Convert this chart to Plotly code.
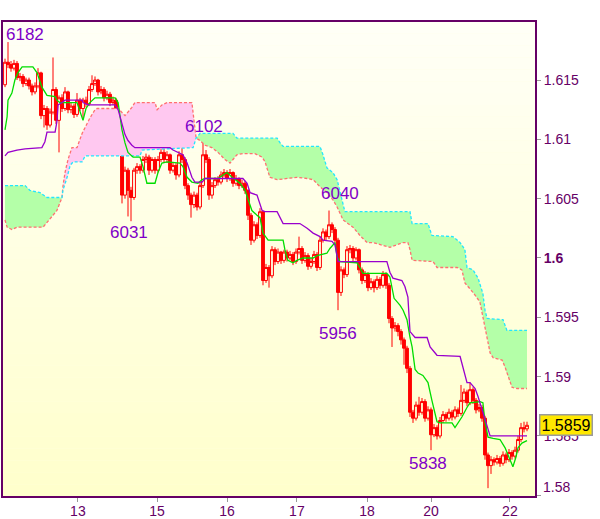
import plotly.graph_objects as go

# ---------------- data ----------------
bar = list(range(175))

open_ = [1.6146, 1.6165, 1.6163, 1.6160, 1.6164, 1.6152, 1.6153, 1.6147, 1.6150, 1.6145,
         1.6140, 1.6145, 1.6156, 1.6120, 1.6126, 1.6112, 1.6123, 1.6142, 1.6116, 1.6135,
         1.6126, 1.6140, 1.6125, 1.6128, 1.6121, 1.6133, 1.6126, 1.6133, 1.6130, 1.6142,
         1.6147, 1.6150, 1.6140, 1.6142, 1.6135, 1.6138, 1.6131, 1.6133, 1.6123, 1.6091,
         1.6053, 1.6074, 1.6057, 1.6051, 1.6074, 1.6077, 1.6074, 1.6083, 1.6085, 1.6074,
         1.6083, 1.6074, 1.6083, 1.6089, 1.6083, 1.6087, 1.6074, 1.6078, 1.6070, 1.6087,
         1.6083, 1.6061, 1.6053, 1.6045, 1.6053, 1.6043, 1.6061, 1.6087, 1.6083, 1.6053,
         1.6061, 1.6066, 1.6064, 1.6070, 1.6072, 1.6067, 1.6072, 1.6063, 1.6067, 1.6061,
         1.6063, 1.6057, 1.6036, 1.6015, 1.6028, 1.6019, 1.6039, 1.5981, 1.5992, 1.5985,
         1.6007, 1.5997, 1.6005, 1.5998, 1.6005, 1.6000, 1.6003, 1.5997, 1.6005, 1.6008,
         1.5998, 1.6002, 1.5993, 1.5997, 1.6003, 1.5992, 1.6015, 1.6022, 1.6018, 1.6028,
         1.6024, 1.6015, 1.5971, 1.5990, 1.5986, 1.6007, 1.6008, 1.6000, 1.6007, 1.5990,
         1.5981, 1.5986, 1.5975, 1.5980, 1.5975, 1.5982, 1.5977, 1.5986, 1.5977, 1.5949,
         1.5941, 1.5943, 1.5938, 1.5931, 1.5924, 1.5907, 1.5870, 1.5865, 1.5876, 1.5870,
         1.5879, 1.5865, 1.5872, 1.5851, 1.5857, 1.5850, 1.5863, 1.5868, 1.5865, 1.5870,
         1.5866, 1.5872, 1.5869, 1.5880, 1.5887, 1.5878, 1.5889, 1.5880, 1.5872, 1.5874,
         1.5865, 1.5834, 1.5825, 1.5830, 1.5828, 1.5831, 1.5827, 1.5834, 1.5830, 1.5836,
         1.5833, 1.5838, 1.5847, 1.5857, 1.5856]

high = [1.6168, 1.6182, 1.6166, 1.6167, 1.6166, 1.6156, 1.6155, 1.6152, 1.6152, 1.6147,
        1.6148, 1.6160, 1.6157, 1.6129, 1.6128, 1.6126, 1.6169, 1.6144, 1.6137, 1.6138,
        1.6144, 1.6141, 1.6131, 1.6130, 1.6139, 1.6135, 1.6135, 1.6136, 1.6145, 1.6154,
        1.6153, 1.6151, 1.6145, 1.6144, 1.6141, 1.6140, 1.6136, 1.6135, 1.6125, 1.6094,
        1.6077, 1.6076, 1.6060, 1.6076, 1.6080, 1.6079, 1.6086, 1.6088, 1.6087, 1.6085,
        1.6085, 1.6086, 1.6095, 1.6095, 1.6090, 1.6088, 1.6081, 1.6080, 1.6090, 1.6093,
        1.6085, 1.6063, 1.6055, 1.6056, 1.6055, 1.6064, 1.6102, 1.6091, 1.6085, 1.6064,
        1.6068, 1.6069, 1.6073, 1.6075, 1.6074, 1.6075, 1.6073, 1.6070, 1.6068, 1.6066,
        1.6065, 1.6058, 1.6038, 1.6031, 1.6030, 1.6042, 1.6040, 1.5995, 1.5994, 1.6010,
        1.6009, 1.6008, 1.6006, 1.6007, 1.6007, 1.6006, 1.6005, 1.6008, 1.6018, 1.6010,
        1.6005, 1.6004, 1.6000, 1.6006, 1.6005, 1.6018, 1.6025, 1.6024, 1.6040, 1.6030,
        1.6026, 1.6017, 1.5993, 1.5992, 1.6010, 1.6011, 1.6010, 1.6009, 1.6008, 1.5992,
        1.5989, 1.5988, 1.5983, 1.5982, 1.5985, 1.5984, 1.5989, 1.5988, 1.5979, 1.5951,
        1.5946, 1.5945, 1.5940, 1.5933, 1.5926, 1.5909, 1.5872, 1.5879, 1.5883, 1.5882,
        1.5881, 1.5875, 1.5874, 1.5860, 1.5859, 1.5866, 1.5871, 1.5870, 1.5873, 1.5872,
        1.5875, 1.5874, 1.5893, 1.5890, 1.5889, 1.5895, 1.5891, 1.5882, 1.5877, 1.5876,
        1.5867, 1.5836, 1.5833, 1.5832, 1.5834, 1.5833, 1.5837, 1.5836, 1.5839, 1.5838,
        1.5841, 1.5850, 1.5861, 1.5862, 1.5862]

low = [1.6144, 1.6160, 1.6157, 1.6158, 1.6150, 1.6149, 1.6144, 1.6145, 1.6142, 1.6137,
       1.6138, 1.6143, 1.6117, 1.6110, 1.6108, 1.6110, 1.6121, 1.6113, 1.6089, 1.6123,
       1.6124, 1.6122, 1.6122, 1.6118, 1.6119, 1.6124, 1.6118, 1.6127, 1.6128, 1.6140,
       1.6145, 1.6137, 1.6138, 1.6132, 1.6133, 1.6128, 1.6129, 1.6120, 1.6087, 1.6046,
       1.6050, 1.6035, 1.6031, 1.6049, 1.6071, 1.6071, 1.6072, 1.6080, 1.6070, 1.6072,
       1.6071, 1.6072, 1.6081, 1.6080, 1.6080, 1.6071, 1.6072, 1.6066, 1.6068, 1.6080,
       1.6058, 1.6049, 1.6034, 1.6042, 1.6040, 1.6041, 1.6059, 1.6080, 1.6049, 1.6050,
       1.6059, 1.6061, 1.6062, 1.6068, 1.6064, 1.6065, 1.6060, 1.6061, 1.6058, 1.6059,
       1.6054, 1.6032, 1.6011, 1.6013, 1.6016, 1.6017, 1.5977, 1.5979, 1.5975, 1.5983,
       1.5994, 1.5995, 1.5995, 1.5996, 1.5997, 1.5998, 1.5994, 1.5995, 1.6003, 1.5995,
       1.5996, 1.5990, 1.5991, 1.5995, 1.5989, 1.5990, 1.6013, 1.6015, 1.6016, 1.6021,
       1.6012, 1.5956, 1.5968, 1.5983, 1.5984, 1.6004, 1.5997, 1.5998, 1.5987, 1.5978,
       1.5979, 1.5972, 1.5973, 1.5971, 1.5973, 1.5974, 1.5975, 1.5974, 1.5945, 1.5925,
       1.5938, 1.5934, 1.5927, 1.5910, 1.5903, 1.5866, 1.5861, 1.5863, 1.5867, 1.5868,
       1.5862, 1.5863, 1.5838, 1.5849, 1.5847, 1.5848, 1.5861, 1.5862, 1.5863, 1.5863,
       1.5864, 1.5866, 1.5867, 1.5878, 1.5875, 1.5876, 1.5877, 1.5869, 1.5870, 1.5862,
       1.5830, 1.5806, 1.5818, 1.5825, 1.5826, 1.5824, 1.5825, 1.5827, 1.5828, 1.5830,
       1.5831, 1.5836, 1.5845, 1.5853, 1.5854]

close = [1.6165, 1.6163, 1.6160, 1.6164, 1.6152, 1.6153, 1.6147, 1.6150, 1.6145, 1.6140,
         1.6145, 1.6156, 1.6120, 1.6126, 1.6112, 1.6123, 1.6142, 1.6116, 1.6135, 1.6126,
         1.6140, 1.6125, 1.6128, 1.6121, 1.6133, 1.6126, 1.6133, 1.6130, 1.6142, 1.6147,
         1.6150, 1.6140, 1.6142, 1.6135, 1.6138, 1.6131, 1.6133, 1.6123, 1.6091, 1.6053,
         1.6074, 1.6057, 1.6051, 1.6074, 1.6077, 1.6074, 1.6083, 1.6085, 1.6074, 1.6083,
         1.6074, 1.6083, 1.6089, 1.6083, 1.6087, 1.6074, 1.6078, 1.6070, 1.6087, 1.6083,
         1.6061, 1.6053, 1.6045, 1.6053, 1.6043, 1.6061, 1.6087, 1.6083, 1.6053, 1.6061,
         1.6066, 1.6064, 1.6070, 1.6072, 1.6067, 1.6072, 1.6063, 1.6067, 1.6061, 1.6063,
         1.6057, 1.6036, 1.6015, 1.6028, 1.6019, 1.6039, 1.5981, 1.5992, 1.5985, 1.6007,
         1.5997, 1.6005, 1.5998, 1.6005, 1.6000, 1.6003, 1.5997, 1.6005, 1.6008, 1.5998,
         1.6002, 1.5993, 1.5997, 1.6003, 1.5992, 1.6015, 1.6022, 1.6018, 1.6028, 1.6024,
         1.6015, 1.5971, 1.5990, 1.5986, 1.6007, 1.6008, 1.6000, 1.6007, 1.5990, 1.5981,
         1.5986, 1.5975, 1.5980, 1.5975, 1.5982, 1.5977, 1.5986, 1.5977, 1.5949, 1.5941,
         1.5943, 1.5938, 1.5931, 1.5924, 1.5907, 1.5870, 1.5865, 1.5876, 1.5870, 1.5879,
         1.5865, 1.5872, 1.5851, 1.5857, 1.5850, 1.5863, 1.5868, 1.5865, 1.5870, 1.5866,
         1.5872, 1.5869, 1.5880, 1.5887, 1.5878, 1.5889, 1.5880, 1.5872, 1.5874, 1.5865,
         1.5834, 1.5825, 1.5830, 1.5828, 1.5831, 1.5827, 1.5834, 1.5830, 1.5836, 1.5833,
         1.5838, 1.5847, 1.5857, 1.5856, 1.5859]

# Tenkan-sen (green)
tenkan_x = [0, 0.7, 1, 2.3, 3.3, 4.3, 5.7, 9.3, 10.7, 11.7, 12.3, 14, 16.7, 17.3, 18.3, 24, 25, 26, 27,
            28.3, 30, 36.7, 37.7, 39, 40, 41, 42.7, 45, 46, 47.3, 50, 51, 52.3, 54, 58.3, 59.3, 60.7,
            62.3, 64.3, 65.7, 66.7, 71, 72.7, 74, 75.7, 78.3, 80, 81, 82.3, 84, 85, 86, 87.7, 92.7,
            93.3, 94.3, 96, 97.3, 99.3, 102.7, 104, 107.3, 108.3, 110, 110.7, 111.7, 117.3, 118.3,
            119.3, 127.3, 128.3, 129.7, 131.7, 132.7, 134, 135, 135.7, 136.7, 137.7, 139.3, 141,
            142.3, 144, 145, 149, 150, 151, 152.3, 154, 155, 158.3, 159.3, 160, 161, 162.7, 165,
            166.7, 168.3, 169.3, 170.3, 171, 172.3, 174]
tenkan_y = [1.6108, 1.6119, 1.6133, 1.6139, 1.6150, 1.6156, 1.6161, 1.6161, 1.6156, 1.6148, 1.6144,
            1.6137, 1.6136, 1.6133, 1.6131, 1.6131, 1.6123, 1.6116, 1.6126, 1.6131, 1.6135, 1.6135,
            1.6131, 1.6108, 1.6097, 1.6089, 1.6085, 1.6085, 1.6077, 1.6063, 1.6063, 1.6072, 1.6080,
            1.6081, 1.6080, 1.6077, 1.6068, 1.6064, 1.6063, 1.6066, 1.6067, 1.6067, 1.6070, 1.6072,
            1.6068, 1.6063, 1.6057, 1.6049, 1.6040, 1.6036, 1.6034, 1.6021, 1.6015, 1.6015, 1.6007,
            1.5998, 1.5996, 1.5998, 1.6000, 1.6000, 1.6002, 1.6004, 1.6008, 1.6013, 1.6001, 1.5997,
            1.5996, 1.5992, 1.5987, 1.5987, 1.5984, 1.5966, 1.5960, 1.5956, 1.5948, 1.5933, 1.5925,
            1.5906, 1.5903, 1.5901, 1.5895, 1.5880, 1.5862, 1.5861, 1.5861, 1.5857, 1.5861, 1.5866,
            1.5874, 1.5878, 1.5879, 1.5878, 1.5862, 1.5849, 1.5848, 1.5847, 1.5840, 1.5830, 1.5824,
            1.5832, 1.5840, 1.5844, 1.5846]

# Kijun-sen (purple)
kijun_x = [0, 1, 4, 6.7, 12.3, 13.3, 14, 16.7, 17.3, 17.7, 19, 20, 25.7, 26, 27.7, 36.7, 37.7, 39,
           40, 41, 42.3, 43.3, 55, 56, 57.7, 59.3, 60.7, 62.3, 63.3, 65.7, 66.7, 79.3, 80.7, 81.7,
           84, 85.7, 86.7, 90.7, 92.7, 98.3, 100.7, 102.7, 105, 106, 109, 110, 111, 127.3, 128.3,
           129.3, 132.3, 133.3, 134.3, 135, 136.7, 140.7, 141.7, 144, 151.7, 152.7, 154, 155,
           156.7, 157.7, 159.3, 160.7, 161.7, 174]
kijun_y = [1.6086, 1.6089, 1.6091, 1.6092, 1.6093, 1.6098, 1.6106, 1.6106, 1.6115, 1.6129, 1.6131,
           1.6133, 1.6133, 1.6131, 1.6129, 1.6129, 1.6125, 1.6112, 1.6104, 1.6099, 1.6095, 1.6093,
           1.6093, 1.6091, 1.6089, 1.6087, 1.6080, 1.6068, 1.6064, 1.6064, 1.6067, 1.6067, 1.6063,
           1.6055, 1.6053, 1.6040, 1.6039, 1.6039, 1.6029, 1.6029, 1.6025, 1.6021, 1.6018, 1.6015,
           1.6014, 1.6011, 1.5997, 1.5997, 1.5988, 1.5983, 1.5981, 1.5976, 1.5967, 1.5938, 1.5933,
           1.5933, 1.5925, 1.5918, 1.5917, 1.5907, 1.5895, 1.5895, 1.5890, 1.5883, 1.5869, 1.5857,
           1.5850, 1.5850]

# Senkou span A (cyan, dashed)
span_a_x = [0, 6.7, 8.3, 11.7, 14, 19, 19.3, 20.7, 21.7, 22.7, 25.7, 26.7, 45, 45.7, 62.7, 63.7,
            65, 76, 77.3, 90.7, 91.7, 92.7, 105, 106, 107.3, 109.3, 110.7, 111.7, 112.7, 113.3,
            135, 135.7, 141, 142.3, 149.3, 151.7, 153.3, 154, 156, 157.7, 159.3, 160, 160.7, 166,
            167.3, 174]
span_a_y = [1.6061, 1.6061, 1.6057, 1.6055, 1.6051, 1.6051, 1.6057, 1.6068, 1.6078, 1.6081, 1.6081,
            1.6086, 1.6086, 1.6091, 1.6093, 1.6101, 1.6105, 1.6105, 1.6101, 1.6101, 1.6097, 1.6094,
            1.6094, 1.6087, 1.6076, 1.6072, 1.6066, 1.6055, 1.6045, 1.6039, 1.6039, 1.6029, 1.6029,
            1.6019, 1.6018, 1.6013, 1.6007, 1.5992, 1.5990, 1.5983, 1.5970, 1.5956, 1.5949, 1.5948,
            1.5939, 1.5939]

# Senkou span B (salmon, dashed)
span_b_x = [0, 0.7, 2.3, 4, 12.7, 14, 15.7, 17.3, 19, 19.3, 20, 21, 22.3, 24, 25.7, 26.7, 28.3, 30,
            30.7, 37.7, 40, 42.3, 43.3, 50, 50.7, 52.3, 54, 62.3, 63.3, 63.7, 65, 66.7, 69, 71,
            73.3, 75, 76, 77.3, 79.3, 83.3, 85.7, 86.7, 87.3, 88.3, 90.7, 95, 97.3, 100.7, 102.7,
            105, 107.3, 109.3, 110.7, 112.7, 116, 118.3, 120.7, 122.7, 128.3, 132.7, 134.3, 135,
            135.7, 142.7, 144, 150.7, 152.3, 153.3, 156, 158.3, 160.7, 161.7, 162.7, 165.7, 166.7,
            167.7, 169, 170.7, 174]
span_b_y = [1.6032, 1.6026, 1.6024, 1.6026, 1.6026, 1.6030, 1.6035, 1.6040, 1.6051, 1.6060, 1.6072,
            1.6083, 1.6093, 1.6093, 1.6105, 1.6110, 1.6118, 1.6125, 1.6126, 1.6126, 1.6120, 1.6127,
            1.6131, 1.6131, 1.6125, 1.6129, 1.6131, 1.6131, 1.6110, 1.6101, 1.6099, 1.6095, 1.6093,
            1.6089, 1.6083, 1.6080, 1.6083, 1.6087, 1.6088, 1.6088, 1.6085, 1.6081, 1.6076, 1.6068,
            1.6066, 1.6067, 1.6068, 1.6067, 1.6066, 1.6060, 1.6055, 1.6049, 1.6043, 1.6032, 1.6026,
            1.6019, 1.6013, 1.6013, 1.6009, 1.6013, 1.6013, 1.6007, 1.5998, 1.5997, 1.5992, 1.5992,
            1.5990, 1.5979, 1.5971, 1.5963, 1.5933, 1.5920, 1.5916, 1.5914, 1.5908, 1.5900, 1.5891,
            1.5890, 1.5890]

# bars where span A and span B cross (cloud changes colour)
cloud_breaks = [0, 19, 63.7, 174]

day_tick_bars = [24.3, 50.7, 74, 97.3, 120.7, 142, 168.3]
day_tick_labels = ["13", "15", "16", "17", "18", "20", "22"]

price_ticks = [1.58, 1.585, 1.59, 1.595, 1.6, 1.605, 1.61, 1.615]
price_tick_labels = ["1.58", "1.585", "1.59", "1.595", "<b>1.6</b>", "1.605", "1.61", "1.615"]

extreme_bars = [1, 42, 66, 108, 111, 142]
extreme_prices = [1.6182, 1.6031, 1.6102, 1.6040, 1.5956, 1.5838]
extreme_texts = ["6182", "6031", "6102", "6040", "5956", "5838"]

last_price = 1.5859

# ---------------- styles ----------------
PURPLE_TXT = "#660066"
LABEL_COL = "#8000c8"
FONT = "Liberation Sans, Arial, sans-serif"
label_shift = [(17, 8), (-2, -11), (1, 10), (11, 17), (0, -23), (-3, -13)]

fig = go.Figure()

# background gradient of the plotting area
n_bands = 40
top_rgb = (255, 255, 246)
bot_rgb = (255, 255, 204)
for k in range(n_bands):
    t = k / (n_bands - 1)
    r = round(bot_rgb[0] + (top_rgb[0] - bot_rgb[0]) * t)
    g = round(bot_rgb[1] + (top_rgb[1] - bot_rgb[1]) * t)
    b = round(bot_rgb[2] + (top_rgb[2] - bot_rgb[2]) * t)
    fig.add_shape(type="rect", xref="paper", yref="paper", x0=0, x1=1,
                  y0=k / n_bands, y1=(k + 1) / n_bands,
                  fillcolor=f"rgb({r},{g},{b})", line=dict(width=0), layer="below")

# cloud fills
for s in range(len(cloud_breaks) - 1):
    a0, a1 = cloud_breaks[s], cloud_breaks[s + 1]
    ax = [x for x in span_a_x if a0 <= x <= a1]
    ay = [y for x, y in zip(span_a_x, span_a_y) if a0 <= x <= a1]
    bx = [x for x in span_b_x if a0 <= x <= a1]
    by = [y for x, y in zip(span_b_x, span_b_y) if a0 <= x <= a1]
    bullish = sum(ay) / len(ay) > sum(by) / len(by)
    fig.add_trace(go.Scatter(x=ax + bx[::-1], y=ay + by[::-1], mode="lines",
                             fill="toself", fillcolor="#b4ffa8" if bullish else "#ffc8f0",
                             line=dict(width=0), hoverinfo="skip"))

fig.add_trace(go.Scatter(x=span_b_x, y=span_b_y, mode="lines",
                         line=dict(color="#ff7070", width=1.3, dash="3px,2px"), hoverinfo="skip"))
fig.add_trace(go.Scatter(x=span_a_x, y=span_a_y, mode="lines",
                         line=dict(color="#22e6ff", width=1.3, dash="3px,2px"), hoverinfo="skip"))

fig.add_trace(go.Candlestick(
    x=bar, open=open_, high=high, low=low, close=close,
    increasing=dict(line=dict(color="#ff0000", width=1), fillcolor="rgba(0,0,0,0)"),
    decreasing=dict(line=dict(color="#ff0000", width=1), fillcolor="#ff0000"),
    whiskerwidth=0))

fig.add_trace(go.Scatter(x=tenkan_x, y=tenkan_y, mode="lines",
                         line=dict(color="#00dd00", width=1.3), hoverinfo="skip"))
fig.add_trace(go.Scatter(x=kijun_x, y=kijun_y, mode="lines",
                         line=dict(color="#9900cc", width=1.3), hoverinfo="skip"))

for (bx_, py, txt), (dx, dy) in zip(zip(extreme_bars, extreme_prices, extreme_texts), label_shift):
    fig.add_annotation(x=bx_, y=py, text=txt, showarrow=False, xshift=dx, yshift=dy,
                       font=dict(family=FONT, size=17, color=LABEL_COL))

# bottom price label sits just above its tick, as in the original chart
fig.add_annotation(xref="paper", x=1, y=price_ticks[0], text=price_tick_labels[0], showarrow=False,
                   xanchor="left", xshift=6, yshift=8,
                   font=dict(family=FONT, size=14, color=PURPLE_TXT))

fig.add_annotation(xref="paper", x=1, y=last_price, text=f"{last_price:.4f}", showarrow=False,
                   xanchor="left", xshift=4, bgcolor="#ffe800", bordercolor="#9a9a9a",
                   borderwidth=1.5, borderpad=1, font=dict(family=FONT, size=16, color="#000000"))

axis_common = dict(showline=True, linecolor=PURPLE_TXT, linewidth=2, mirror=True,
                   showgrid=False, zeroline=False, ticks="outside", ticklen=4, automargin=False,
                   tickcolor="#999999", tickfont=dict(family=FONT, size=14, color=PURPLE_TXT))

fig.update_layout(
    width=600, height=519,
    margin=dict(l=3, r=65, t=22, b=23),
    paper_bgcolor="white", plot_bgcolor="#ffffe0",
    showlegend=False,
    boxgap=0.05, boxgroupgap=0,
    xaxis=dict(range=[-0.667, 176.667], tickvals=day_tick_bars, ticktext=day_tick_labels,
               ticklabelstandoff=-3, rangeslider=dict(visible=False), **axis_common),
    yaxis=dict(range=[1.57994, 1.61989], side="right", tickvals=price_ticks,
               ticktext=[""] + price_tick_labels[1:], **axis_common),
)

fig.write_html("out.html", config={"displayModeBar": False},
               post_script="document.body.style.margin='0';document.body.style.overflow='hidden';")
